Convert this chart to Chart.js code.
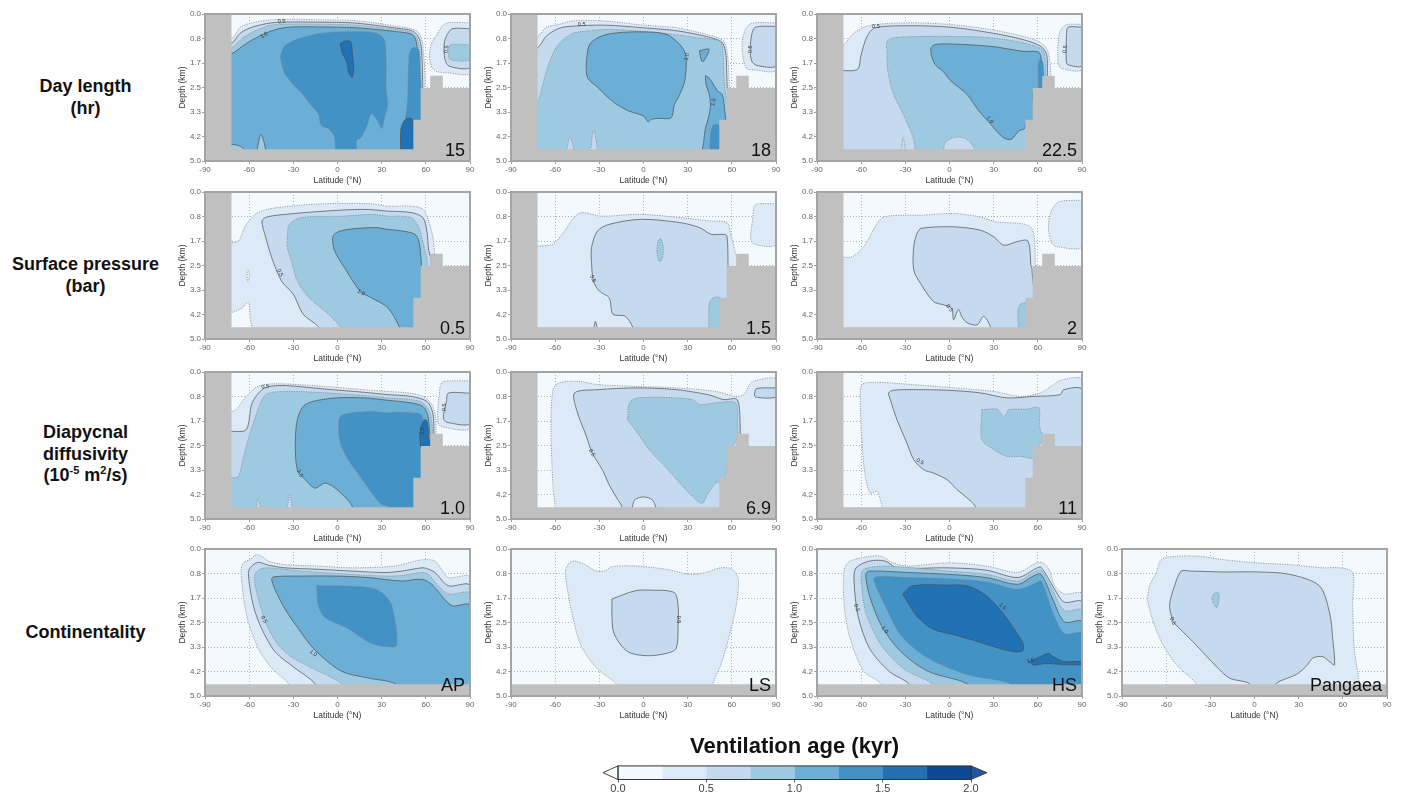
<!DOCTYPE html>
<html>
<head>
<meta charset="utf-8">
<script src="https://cdn.jsdelivr.net/npm/chart.js"></script>
<style>
body { margin: 0; background: #fff; width: 1407px; height: 800px; position: relative; overflow: hidden; font-family: 'Liberation Sans', Arial, sans-serif; }
canvas { position: absolute; }
.rowlab { position: absolute; left: 0; width: 171px; text-align: center; font-weight: bold; font-size: 18px; line-height: 21.5px; color: #111; }
.rowlab sup { font-size: 11px; line-height: 0; vertical-align: 7px; }
</style>
</head>
<body>
<div class="rowlab" style="top:76px">Day length<br>(hr)</div>
<div class="rowlab" style="top:254px">Surface pressure<br>(bar)</div>
<div class="rowlab" style="top:422px">Diapycnal<br>diffusivity<br>(10<sup>-5</sup> m<sup>2</sup>/s)</div>
<div class="rowlab" style="top:622px">Continentality</div>
<script>
const FONT = "'Liberation Sans', Arial, sans-serif";

// axes
const latTicks = [-90, -60, -30, 0, 30, 60, 90];
const depthTicks = ['0.0', '0.8', '1.7', '2.5', '3.3', '4.2', '5.0'];
const ageLevels = [0, 0.25, 0.5, 0.75, 1, 1.25, 1.5, 1.75, 2];
const cbTicks = ['0.0', '0.5', '1.0', '1.5', '2.0'];
const bandColors = ['#f4f9fe', '#dce9f6', '#c5daee', '#9ecae1', '#6baed6', '#4292c6', '#2171b5', '#0b4a97'];

// land masks [lat, depth]
const landShelf = [[-90,0],[-72,0],[-72,4.6],[51.5,4.6],[51.5,3.6],[56.5,3.6],[56.5,2.52],[63,2.52],[63,2.1],[71.5,2.1],[71.5,2.52],[90,2.52],[90,5],[-90,5]];
const landFlat = [[-90,4.6],[90,4.6],[90,5],[-90,5]];

// contour regions: [lower band level, outline [lat, depth], hole?]
const day15 = [
  [0.25, [[-80,0.85],[-72,0.85],[-66,0.45],[-58,0.3],[-45,0.2],[-30,0.18],[-10,0.2],[10,0.22],[25,0.3],[40,0.42],[50,0.5],[55,0.62],[57.5,0.9],[58.5,1.4],[59,1.7],[59.5,2.2],[59.5,2.6],[60,4.9],[-80,4.9]]],
  [0.5, [[-80,1.0],[-72,1.0],[-66,0.65],[-58,0.45],[-45,0.3],[-30,0.27],[-10,0.28],[10,0.3],[25,0.38],[40,0.48],[50,0.56],[54,0.7],[56.5,1.0],[57.5,1.6],[58,2.6],[60,4.9],[-80,4.9]]],
  [0.75, [[-80,1.15],[-72,1.15],[-64,0.8],[-55,0.55],[-45,0.38],[-30,0.34],[-10,0.35],[10,0.37],[25,0.44],[40,0.53],[50,0.62],[53.5,0.78],[55.5,1.1],[56.5,1.7],[57,2.6],[60,4.9],[-80,4.9]]],
  [1.0, [[-80,1.35],[-72,1.35],[-62,1.0],[-50,0.68],[-40,0.5],[-30,0.44],[-10,0.44],[10,0.46],[25,0.52],[40,0.6],[50,0.68],[53,0.85],[54.5,1.3],[55.5,2.0],[56,2.6],[60,4.9],[-80,4.9]]],
  [1.25, [[-39,1.45],[-36,1.1],[-28,0.87],[-12,0.66],[11,0.6],[27,0.66],[32,0.9],[33,1.6],[33,2.5],[34,3.1],[32,3.5],[30,3.9],[27,3.6],[23,3.4],[20,3.8],[16,4.2],[13,4.3],[12,4.9],[0,4.9],[-2,4.2],[-6,3.9],[-11,3.8],[-13,3.4],[-18,3.1],[-24,2.7],[-30,2.4],[-36,2.0]]],
  [1.25, [[48.5,1.4],[51,1.15],[55,1.2],[56,1.6],[57,4.9],[44,4.9],[44.5,4.1],[46,3.6],[47.5,3.0],[48,2.2]]],
  [1.5, [[2,1.0],[5,0.92],[9,0.95],[10,1.3],[11,1.8],[10,2.15],[8,2.05],[6,1.6],[3,1.3]]],
  [1.5, [[43,4.9],[43,3.95],[45,3.65],[48,3.55],[51,3.6],[51.5,4.9]]],
  [0.75, [[-55,4.7],[-52,4.1],[-49,4.7]], 'h'],
  [0.75, [[-80,4.7],[-72,4.45],[-66,4.5],[-62,4.7]], 'h'],
  [0.25, [[90,0.3],[75,0.3],[71,0.42],[67,0.75],[64,1.0],[62.5,1.35],[63.5,1.75],[67,1.95],[75,2.0],[90,2.0]]],
  [0.5, [[90,0.5],[78,0.5],[74.5,0.7],[72.5,1.0],[73,1.55],[76,1.78],[90,1.8]]],
  [0.75, [[90,1.05],[76.5,1.05],[75.5,1.3],[76.5,1.55],[90,1.55]]]
];
const day18 = [
  [0.25, [[-80,0.76],[-72,0.76],[-66,0.45],[-58,0.36],[-47,0.23],[-26,0.24],[0,0.38],[21,0.46],[37,0.62],[50,0.8],[55,0.95],[57,1.38],[58,2.0],[58.5,2.6],[62,4.9],[-80,4.9]]],
  [0.5, [[-80,1.15],[-72,1.15],[-66,0.75],[-58,0.5],[-50,0.42],[-26,0.38],[0,0.47],[21,0.56],[37,0.7],[50,0.87],[54,1.0],[56,1.4],[56.5,2.0],[57,2.6],[62,4.9],[-80,4.9]]],
  [0.75, [[-80,2.96],[-72,2.96],[-70,2.7],[-66,1.95],[-62,1.4],[-58,1.04],[-52,0.78],[-47,0.64],[-26,0.53],[0,0.59],[21,0.7],[37,0.81],[52,0.93],[54,1.3],[54.5,1.95],[55.5,2.6],[62,4.9],[-80,4.9]]],
  [1.0, [[-39,1.72],[-36.7,1.04],[-29,0.76],[-18,0.64],[0,0.61],[16,0.7],[26.5,1.15],[29,1.5],[28,2.28],[24,2.8],[21,3.08],[18.7,3.53],[10,3.55],[5.5,3.58],[3,3.66],[0,3.47],[-10,3.3],[-18,3.08],[-25,2.8],[-31,2.5],[-38,2.17]]],
  [1.0, [[38,1.25],[44.5,1.2],[41,1.6],[39.5,1.6]]],
  [1.0, [[42,2.1],[44,2.15],[47,2.35],[50,2.6],[53.5,2.75],[55,3.2],[57,4.9],[40.5,4.9],[41,4.3],[42,3.9],[44,3.55],[45.5,3.1],[44.5,2.7],[42.5,2.4]]],
  [1.25, [[45,4.9],[45.5,4.1],[47,3.8],[49,3.75],[51.5,3.8],[51.5,4.9]]],
  [0.5, [[-52.5,4.7],[-50,4.2],[-47.5,4.7]], 'h'],
  [0.5, [[-36,4.7],[-34,3.95],[-31.5,4.7]], 'h'],
  [0.25, [[90,0.3],[73,0.32],[69,0.55],[67,1.0],[67.5,1.45],[70,1.85],[75,1.9],[90,1.9]]],
  [0.5, [[90,0.42],[76,0.45],[73.5,0.7],[72.5,1.2],[73.5,1.6],[77,1.75],[90,1.75]]]
];
const day225 = [
  [0.25, [[-80,1.04],[-72,1.04],[-66,0.7],[-59,0.47],[-50.6,0.36],[-26,0.3],[1,0.36],[28,0.53],[50,0.76],[60,0.92],[64,1.05],[67,1.3],[68.5,1.8],[68.5,2.3],[62,4.9],[-80,4.9]]],
  [0.5, [[-80,1.89],[-62.8,1.89],[-60,1.38],[-56,0.76],[-50.6,0.47],[-26,0.4],[1,0.45],[28,0.64],[50,0.87],[62,1.1],[66,1.38],[66.5,2.0],[66.5,2.3],[62,4.9],[-80,4.9]]],
  [0.75, [[-23.4,4.9],[-23.4,4.6],[-24.7,4.2],[-31.5,3.4],[-38.3,2.7],[-42,1.9],[-42.4,1.38],[-42.4,0.93],[-37,0.8],[1,0.76],[28,0.81],[50,0.98],[63,1.21],[65,1.55],[65.5,2.2],[65.5,2.4],[62,4.9]]],
  [0.5, [[-4,4.7],[-3,4.38],[3,4.2],[10,4.22],[15,4.42],[17,4.7]], 'h'],
  [0.5, [[-33,4.7],[-31.5,4.2],[-30,4.7]], 'h'],
  [1.0, [[-12.5,1.38],[-12.5,1.15],[-9.8,1.04],[1,1.02],[28,1.1],[50,1.27],[61,1.32],[62.3,1.95],[61,2.51],[57,2.6],[57,3.6],[52,3.7],[51,3.9],[47,3.98],[42,4.26],[36.4,4.2],[28,3.75],[20,3.3],[12,2.74],[1,2.28],[-4.4,1.95],[-9.8,1.72]]],
  [1.25, [[60.5,2.6],[60.3,1.7],[61.5,1.55],[63.5,1.65],[64,2.6]]],
  [0.25, [[90,0.35],[80,0.36],[76,0.5],[74.2,0.8],[73.5,1.3],[74,1.7],[76,1.85],[90,1.88]]],
  [0.5, [[90,0.45],[80.5,0.45],[79.5,0.7],[79.3,1.6],[80.5,1.73],[90,1.75]]]
];
const press05 = [
  [0.25, [[-80,1.72],[-72,1.72],[-67.3,1.67],[-62,1.1],[-54,0.7],[-40.7,0.53],[-8.7,0.4],[23,0.4],[34,0.48],[50,0.48],[58,0.59],[62,0.99],[65,1.6],[66,2.2],[66,2.4],[62,4.9],[-80,4.9]]],
  [0, [[-80,4.1],[-72,4.1],[-65,3.95],[-60.5,3.75],[-59.5,4.2],[-59,4.9],[-80,4.9]], 'h'],
  [0, [[-61.5,2.75],[-60.5,2.65],[-60,2.9],[-61,3.05]], 'h'],
  [0.5, [[-12.7,4.9],[-12.7,4.6],[-23.3,4.16],[-30,3.48],[-38,3.03],[-44.7,2.23],[-49,1.5],[-51.3,0.99],[-48,0.85],[-35.3,0.76],[-8.7,0.65],[18,0.59],[34,0.65],[50,0.7],[58,0.87],[60.7,1.33],[62,2.0],[63.5,2.3],[62,4.9]]],
  [0.75, [[2,4.9],[2,4.6],[-8.7,4.05],[-19.3,3.6],[-27.3,3.03],[-31,2.4],[-34,1.89],[-34,1.44],[-32.7,1.1],[-24.7,0.87],[4.7,0.82],[23,0.76],[34,0.82],[50,0.87],[55.3,1.21],[58.5,1.8],[60.7,2.23],[61,2.6],[62,4.9]]],
  [1.0, [[42,4.9],[42,4.6],[34,3.93],[23,3.6],[15.3,3.37],[4.7,2.57],[-2,2.0],[-3.3,1.55],[-0.7,1.38],[7.3,1.27],[26,1.21],[34,1.27],[44.7,1.33],[52.7,1.44],[55.3,1.67],[56.7,2.23],[57,2.6],[58,4.9]]]
];
const press15 = [
  [0.25, [[-80,1.84],[-72,1.84],[-62,1.78],[-55.3,1.44],[-47.3,0.87],[-42,0.7],[-28.7,0.82],[-2,0.76],[24.7,0.87],[46,0.99],[56.7,1.04],[59.3,1.44],[62,2.0],[63.5,2.3],[62,4.9],[-80,4.9]]],
  [0.5, [[-7.3,4.9],[-7.3,4.6],[-12.7,4.22],[-20.7,4.16],[-23.3,3.6],[-30,3.37],[-34,3.03],[-35.3,2.4],[-35.3,1.89],[-31.3,1.33],[-23.3,1.1],[-2,0.93],[24.7,1.04],[38,1.21],[46,1.44],[54,1.44],[56.7,1.5],[57.5,2.6],[60,4.9]]],
  [0.5, [[-34,4.7],[-32.7,4.4],[-31.5,4.7]]],
  [0.75, [[9,2.0],[10,1.65],[12,1.6],[13.5,1.95],[12.5,2.3],[10.5,2.35]]],
  [0.75, [[44.5,4.9],[44.5,3.85],[46,3.65],[48.7,3.58],[52,3.6],[52,4.9]]],
  [0.25, [[90,0.4],[78,0.4],[75.3,0.48],[74,0.99],[72.7,1.55],[75.3,1.78],[90,1.78]]]
];
const press2 = [
  [0.25, [[-80,2.22],[-72,2.22],[-66.2,2.2],[-58.3,1.86],[-49.2,1.07],[-44.7,0.85],[-31,0.79],[-19.8,0.79],[2.8,0.73],[21,0.85],[32.3,1.02],[48,1.07],[55,1.19],[57.6,1.52],[58.3,2.43],[58.5,2.6],[60,4.9],[-80,4.9]]],
  [0.5, [[-19.8,1.24],[-10.8,1.19],[5,1.19],[21,1.3],[30,1.52],[36.8,1.81],[45.8,1.69],[52.6,1.64],[54.4,1.86],[55.3,2.5],[56,2.6],[57,4.9],[28,4.9],[27.7,4.57],[23.2,4.23],[18.7,4.52],[12,4.45],[8.5,4.25],[6,4.0],[2.8,4.35],[1.5,3.95],[-4,3.84],[-10.8,3.73],[-19.8,3.1],[-24.3,2.65],[-24.3,1.86],[-22,1.4]]],
  [0.75, [[47,4.9],[46.5,4.0],[48.5,3.8],[51.5,3.8],[51.5,4.9]]],
  [0.25, [[90,0.28],[74,0.34],[68.5,0.73],[67.3,1.3],[69.6,1.75],[73,1.86],[90,1.86]]]
];
const diff10 = [
  [0.25, [[-80,1.34],[-72,1.34],[-68.7,1.28],[-62,0.83],[-54,0.49],[-40.7,0.4],[-8.7,0.49],[18,0.6],[34,0.66],[47.3,0.71],[58,0.83],[64,1.1],[66.5,1.5],[67,2.0],[67,2.3],[62,4.9],[-80,4.9]]],
  [0.5, [[-80,2.02],[-72,2.02],[-62,1.96],[-58,1.05],[-51.3,0.6],[-46,0.49],[-35.3,0.46],[-8.7,0.58],[18,0.69],[34,0.77],[50,0.83],[60.7,1.0],[64.7,1.39],[65.5,2.0],[65.5,2.3],[62,4.9],[-80,4.9]]],
  [0.75, [[-80,3.6],[-72,3.6],[-67.3,3.55],[-64,2.9],[-60.7,2.3],[-54,1.28],[-48.7,0.77],[-35.3,0.66],[-8.7,0.71],[18,0.8],[34,0.88],[50,0.94],[58,1.05],[62.8,1.39],[64.7,2.07],[64.5,2.3],[62,4.9],[-80,4.9]]],
  [0.5, [[-55.5,4.7],[-54,4.3],[-52.5,4.7]], 'h'],
  [0.5, [[-34.5,4.7],[-32.5,4.2],[-31,4.7]], 'h'],
  [1.0, [[10,4.9],[10,4.57],[4.7,4.23],[-3.3,3.89],[-8.7,3.78],[-15.3,3.95],[-22,3.66],[-27.3,3.32],[-28.7,2.42],[-27.3,1.62],[-23.3,1.17],[-16.7,1.0],[-0.7,0.88],[18,0.88],[34,0.96],[50,1.05],[58,1.17],[61.2,1.45],[62.8,2.07],[63.5,2.3],[62,4.9]]],
  [1.25, [[34,4.9],[34,4.57],[30,4.51],[23.3,4.12],[15.3,3.55],[7.3,2.98],[2,2.42],[0.7,1.85],[2,1.51],[10,1.39],[23.3,1.34],[34,1.39],[39.3,1.37],[50,1.39],[56.7,1.45],[59.3,1.85],[60.7,2.3],[60.7,2.6],[58,4.9]]],
  [1.5, [[56.5,2.6],[56,2.1],[57.5,1.75],[59.5,1.62],[61,1.7],[62,2.2],[62.5,2.6]]],
  [0.25, [[90,0.3],[72,0.32],[70,0.45],[69,0.8],[68.2,1.2],[68.2,1.7],[70,1.85],[90,1.9]]],
  [0.5, [[90,0.72],[75.3,0.72],[74,1.0],[72.2,1.4],[72.2,1.62],[75,1.72],[90,1.75]]]
];
const diff69 = [
  [0.25, [[-60,4.9],[-60,4.57],[-61.5,3.89],[-62.8,1.85],[-61.5,0.6],[-57.5,0.37],[-44,0.32],[-30.8,0.43],[-4,0.49],[22.5,0.54],[49,0.66],[62.5,0.83],[68,0.77],[73,0.37],[78.5,0.26],[90,0.26],[90,2.6],[62,4.9]]],
  [0.5, [[-14.8,4.9],[-14.8,4.57],[-17.5,4.34],[-22.8,3.89],[-28,3.32],[-34.8,2.76],[-38.8,2.19],[-45.5,1.28],[-46.8,0.71],[-30.8,0.6],[-4,0.54],[22.5,0.6],[43.9,0.77],[49,0.85],[54.6,0.94],[63.6,0.94],[65.7,1.85],[65.5,2.3],[62,4.9]]],
  [0.25, [[-8,4.7],[-6,4.35],[0,4.25],[6,4.35],[8,4.7]], 'h'],
  [0.5, [[90,0.54],[77,0.56],[75.5,0.7],[76,0.85],[90,0.85]]],
  [0.75, [[-10.8,1.62],[-9.5,1.05],[-4,0.88],[22.5,0.88],[33.2,0.94],[38.5,1.11],[49,1.05],[62.5,1.05],[63.9,1.62],[63.5,2.3],[58,2.7],[55,3.7],[51,3.75],[49,3.78],[43.9,4.12],[39.9,4.46],[33.2,4.23],[22.5,3.66],[14.5,3.21],[3.9,2.64],[-4,2.08]]]
];
const diff11 = [
  [0.25, [[-45.9,4.9],[-45.9,4.6],[-47,4.34],[-49.2,4.06],[-53.8,4.12],[-57.2,3.55],[-59.4,2.42],[-60.6,0.94],[-59.4,0.43],[-51.5,0.35],[-24.3,0.43],[2.8,0.54],[30,0.66],[48.1,0.83],[61.7,0.71],[70.7,0.43],[75.3,0.28],[90,0.26],[90,2.6],[62,4.9]]],
  [0.5, [[17.5,4.9],[17.5,4.57],[10.7,4.23],[5.1,4.0],[-1.7,3.66],[-10.8,3.44],[-17.6,3.32],[-24.3,2.98],[-28.9,2.42],[-35.7,1.62],[-40.2,0.94],[-41.3,0.71],[-37.9,0.62],[-24.3,0.6],[-1.7,0.62],[21,0.71],[39,0.88],[57.2,0.83],[75.3,0.77],[77.5,0.6],[90,0.6],[90,2.6],[62,4.9]]],
  [0.75, [[22,1.28],[32.3,1.26],[34.5,1.39],[36.8,1.51],[39,1.39],[40.2,1.28],[52.6,1.26],[60.6,1.22],[61.2,1.85],[63.5,2.3],[58,2.7],[57.2,2.93],[48.1,2.87],[39,2.87],[30,2.64],[22,2.3]]]
];
const contAP = [
  [0.25, [[-33.4,4.9],[-33.4,4.58],[-44.7,4.05],[-53.8,3.38],[-61.7,2.26],[-65.5,0.8],[-64,0.47],[-59.4,0.36],[-54.9,0.19],[-51.5,0.25],[-47,0.41],[-35.7,0.53],[-13,0.58],[9.6,0.64],[39,0.58],[53,0.41],[59.4,0.36],[66.2,0.41],[70.7,0.69],[75.3,0.97],[90,0.97],[90,4.9]]],
  [0.5, [[-15.3,4.9],[-15.3,4.58],[-28.9,4.05],[-42.5,3.49],[-51.5,2.71],[-57.2,1.92],[-60.6,0.8],[-58.3,0.58],[-53.8,0.45],[-47,0.55],[-35.7,0.64],[-13,0.69],[9.6,0.75],[32.3,0.8],[43.6,0.75],[57.2,0.64],[60.5,0.66],[66.2,0.8],[75.3,1.25],[90,1.25],[90,4.9]]],
  [0.75, [[2.8,4.9],[2.8,4.58],[-15.3,4.1],[-33.4,3.6],[-44.7,2.93],[-52.6,1.92],[-56.5,0.92],[-52.6,0.69],[-47,0.64],[-24.3,0.75],[-1.7,0.83],[32.3,0.92],[43.6,0.9],[57.2,0.8],[61.7,0.86],[68.5,1.25],[75.3,1.53],[90,1.53],[90,4.9]]],
  [1.0, [[39,4.9],[39,4.58],[21,4.39],[2.8,4.16],[-15.3,3.44],[-26.6,2.71],[-35.7,2.04],[-42.5,1.37],[-44.7,1.01],[-42.5,0.94],[-24.3,0.92],[-1.7,0.92],[21,0.97],[43.6,1.09],[57.2,1.03],[64,1.2],[77.5,1.92],[90,1.92],[90,4.9]]],
  [1.25, [[-14.2,1.25],[-1.7,1.25],[21,1.31],[30,1.48],[36.8,1.92],[40.2,3.27],[32.3,3.32],[21,3.16],[7.4,2.71],[-8.5,2.32],[-13,1.92]]]
];
const contLS = [
  [0.25, [[-18.7,4.9],[-18.7,4.58],[-32,4.05],[-42.5,3.27],[-47.8,2.37],[-51.7,1.37],[-53,0.75],[-50.4,0.47],[-46.5,0.41],[-39.9,0.53],[-32,0.75],[-26.7,0.75],[-21.4,0.6],[-5.6,0.58],[15.6,0.69],[31.4,0.86],[42,0.8],[52.5,0.64],[60.4,0.69],[64.4,1.03],[63,1.92],[57.8,3.04],[52.5,3.94],[47.2,4.58],[47.2,4.9]]],
  [0.5, [[-21.4,1.7],[-5.6,1.42],[5,1.4],[20.8,1.48],[23.5,1.92],[23.5,2.6],[22.2,3.38],[15.6,3.55],[2.4,3.63],[-10.8,3.49],[-20,2.88],[-21.4,2.26]]]
];
const contHS = [
  [0.25, [[-46.3,4.9],[-46.3,4.58],[-58.2,4.16],[-67.5,3.04],[-71.5,1.92],[-71.5,0.69],[-67.5,0.41],[-54.3,0.25],[-46.3,0.25],[-38.4,0.47],[-27.8,0.58],[-1.3,0.47],[25.1,0.58],[46.3,0.8],[56.9,0.53],[62.2,0.45],[67.5,0.69],[71.5,1.25],[78.1,1.53],[90,1.53],[90,4.9]]],
  [0.5, [[-27.8,4.9],[-27.8,4.58],[-41,4.16],[-54.3,3.38],[-62.2,2.26],[-64.9,1.03],[-63.5,0.64],[-54.3,0.41],[-43.7,0.41],[-35.7,0.64],[-1.3,0.64],[25.1,0.72],[46.3,0.97],[59.6,0.64],[62,0.62],[64.8,0.8],[72.8,1.48],[78.1,1.81],[90,1.81],[90,4.9]]],
  [0.75, [[-11.9,4.9],[-11.9,4.58],[-30.4,4.1],[-46.3,3.27],[-56.9,2.15],[-60.1,0.92],[-58.2,0.69],[-43.7,0.58],[-1.3,0.75],[25.1,0.86],[46.3,1.09],[56.9,0.8],[62.2,0.72],[67.5,1.14],[78.1,2.09],[90,2.09],[90,4.9]]],
  [1.0, [[11.9,4.9],[11.9,4.58],[-14.6,4.16],[-33.1,3.49],[-46.3,2.6],[-54.3,1.59],[-56.9,0.86],[-54.3,0.75],[-27.8,0.8],[-1.3,0.86],[25.1,0.97],[46.3,1.2],[56.9,0.92],[62.2,0.86],[70.1,1.7],[78.1,2.48],[90,2.48],[90,4.9]]],
  [1.25, [[41,4.9],[41,4.58],[11.9,4.27],[-14.6,3.71],[-33.1,2.93],[-43.7,1.92],[-51.6,1.03],[-49,0.94],[-27.8,0.97],[-1.3,1.01],[25.1,1.12],[46.3,1.37],[56.9,1.2],[62.2,1.09],[70.1,2.15],[78.1,2.88],[90,2.88],[90,4.9]]],
  [1.5, [[-31.8,1.53],[-25.2,1.25],[-1.3,1.23],[11.9,1.25],[25.1,1.59],[35.7,2.15],[43.7,2.71],[50.3,3.27],[49,3.49],[38.4,3.44],[19.9,3.16],[4,2.93],[-11.9,2.71],[-22.5,2.26]]],
  [1.5, [[54.3,3.83],[60,3.7],[67.5,3.55],[70,3.65],[78.1,3.83],[90,3.83],[90,3.94],[64.8,3.9],[57,3.95]]]
];
const contPangaea = [
  [0.25, [[-39.6,4.9],[-39.6,4.58],[-53.1,3.94],[-64.4,3.04],[-72.4,1.81],[-71.2,1.25],[-66.7,0.8],[-63.3,0.36],[-53.1,0.25],[-37.3,0.25],[-21.5,0.36],[1.1,0.47],[23.7,0.53],[46.3,0.64],[57.6,0.64],[66.7,0.8],[66.7,1.92],[67.8,3.38],[71.2,4.58],[71.2,4.9]]],
  [0.5, [[-55.4,2.48],[-57.7,1.92],[-54.3,1.25],[-49.8,0.75],[-44.1,0.75],[-21.5,0.78],[1.1,0.78],[23.7,0.86],[44,1.25],[50.9,2.15],[53.1,3.04],[54.3,3.94],[50.9,3.83],[46.3,3.66],[39.6,3.71],[35.1,3.99],[28.3,4.27],[14.7,4.58],[14.7,4.9],[-3.4,4.9],[-3.4,4.58],[-17,4.39],[-26,3.99],[-39.6,3.27],[-48.6,2.82]]],
  [0.75, [[-29,1.65],[-27,1.5],[-24.5,1.5],[-24,1.7],[-25.5,2.0],[-28,1.85]]]
];

// small contour labels: [text, lat, depth, angle]
const notes = {
  day15: [['0.5',-38,0.26,-3],['1.0',-50,0.72,-35],['0.5',74,1.2,-80]],
  day18: [['0.5',-42,0.37,0],['1.0',29.5,1.45,-80],['1.5',47.5,3.0,-75],['0.5',72.5,1.2,-85]],
  day225: [['0.5',-50,0.44,0],['1.0',27.5,3.6,55],['0.5',78.5,1.2,-80]],
  press05: [['0.5',-39,2.75,65],['1.0',16,3.42,30]],
  press15: [['0.5',-34.5,2.95,65]],
  press2: [['0.5',0,3.95,55]],
  diff10: [['0.5',-49,0.5,-10],['1.0',-25.5,3.45,65],['1.5',57.5,2.0,-85],['0.5',72.5,1.2,-85]],
  diff69: [['0.5',-35,2.75,60]],
  diff11: [['0.5',-20,3.05,30]],
  contAP: [['0.5',-50,2.4,60],['1.0',-16.5,3.55,35]],
  contLS: [['0.5',24,2.4,90]],
  contHS: [['0.5',-63,2.0,70],['1.0',-44,2.75,55],['1.5',36,1.95,45],['1.5',55,3.8,-20]],
  contPangaea: [['0.5',-55.5,2.45,70]]
};

const panels = [
  {col: 0, row: 0, name: '15', regions: day15, land: landShelf, notes: notes.day15},
  {col: 1, row: 0, name: '18', regions: day18, land: landShelf, notes: notes.day18},
  {col: 2, row: 0, name: '22.5', regions: day225, land: landShelf, notes: notes.day225},
  {col: 0, row: 1, name: '0.5', regions: press05, land: landShelf, notes: notes.press05},
  {col: 1, row: 1, name: '1.5', regions: press15, land: landShelf, notes: notes.press15},
  {col: 2, row: 1, name: '2', regions: press2, land: landShelf, notes: notes.press2},
  {col: 0, row: 2, name: '1.0', regions: diff10, land: landShelf, notes: notes.diff10},
  {col: 1, row: 2, name: '6.9', regions: diff69, land: landShelf, notes: notes.diff69},
  {col: 2, row: 2, name: '11', regions: diff11, land: landShelf, notes: notes.diff11},
  {col: 0, row: 3, name: 'AP', regions: contAP, land: landFlat, notes: notes.contAP},
  {col: 1, row: 3, name: 'LS', regions: contLS, land: landFlat, notes: notes.contLS},
  {col: 2, row: 3, name: 'HS', regions: contHS, land: landFlat, notes: notes.contHS},
  {col: 3, row: 3, name: 'Pangaea', regions: contPangaea, land: landFlat, notes: notes.contPangaea}
];

const colLeft = [205, 511, 817, 1122];
const rowTop = [14, 192, 372, 549];

function toXY(pts) {
  return pts.concat([pts[0]]).map(([x, y]) => ({x, y}));
}

function regionSet([lvl, pts, hole]) {
  const edge = hole ? lvl + 0.25 : lvl;
  const major = Math.abs(edge * 2 - Math.round(edge * 2)) < 1e-6;
  return {
    data: toXY(pts), showLine: true, fill: 'shape', tension: 0.3, pointRadius: 0,
    backgroundColor: bandColors[Math.round(lvl * 4)],
    borderColor: major ? '#4d4d4d' : '#7d7d7d',
    borderWidth: 0.7,
    borderDash: major ? [] : [1.2, 1.2]
  };
}

/** Background, frame, contour labels and panel name. */
const panelDeco = {
  id: 'panelDeco',
  beforeDraw(chart) {
    const {ctx, chartArea: a} = chart;
    ctx.save();
    ctx.fillStyle = bandColors[0];
    ctx.fillRect(a.left, a.top, a.width, a.height);
    ctx.restore();
  },
  afterDatasetsDraw(chart) {
    const {ctx, scales} = chart;
    const p = chart.options.plugins.panelDeco;
    ctx.save();
    ctx.font = '5.5px ' + FONT;
    ctx.fillStyle = '#333';
    ctx.textAlign = 'center';
    ctx.textBaseline = 'middle';
    p.notes.forEach(([t, lat, d, ang]) => {
      ctx.save();
      ctx.translate(scales.x.getPixelForValue(lat), scales.y.getPixelForValue(d));
      ctx.rotate(ang * Math.PI / 180);
      ctx.fillText(t, 0, 0);
      ctx.restore();
    });
    ctx.restore();
  },
  afterDraw(chart) {
    const {ctx, chartArea: a} = chart;
    const p = chart.options.plugins.panelDeco;
    ctx.save();
    ctx.strokeStyle = '#a4a4a4';
    ctx.lineWidth = 2;
    ctx.strokeRect(a.left, a.top, a.width, a.height);
    ctx.font = '18px ' + FONT;
    ctx.fillStyle = '#111';
    ctx.textAlign = 'right';
    ctx.textBaseline = 'alphabetic';
    ctx.fillText(p.name, a.right - 5, a.bottom - 5);
    ctx.restore();
  }
};

function makePanel(p) {
  const cv = document.createElement('canvas');
  cv.width = 308;
  cv.height = 184;
  cv.style.left = (colLeft[p.col] - 31) + 'px';
  cv.style.top = (rowTop[p.row] - 8) + 'px';
  document.body.appendChild(cv);

  const sets = p.regions.map(regionSet);
  sets.push({
    data: toXY(p.land), showLine: true, fill: 'shape', tension: 0, pointRadius: 0,
    backgroundColor: '#c0c0c0', borderColor: 'rgba(0,0,0,0)', borderWidth: 0
  });
  sets.forEach((s, i) => { s.order = sets.length - i; });

  const gridOpts = {color: 'rgba(105,105,105,0.6)', lineWidth: 0.8, tickLength: 3, tickColor: '#888'};
  new Chart(cv, {
    type: 'scatter',
    data: {datasets: sets},
    options: {
      responsive: false,
      animation: false,
      events: [],
      devicePixelRatio: 1,
      layout: {padding: {left: 0, top: 8, right: 12, bottom: 0}},
      plugins: {
        legend: {display: false},
        tooltip: {enabled: false},
        panelDeco: {name: p.name, notes: p.notes}
      },
      scales: {
        x: {
          type: 'linear', min: -90, max: 90, z: 1,
          afterBuildTicks: s => { s.ticks = latTicks.map(v => ({value: v})); },
          afterFit: s => { s.height = 29; },
          ticks: {callback: (v, i) => String(latTicks[i]), font: {size: 8, family: FONT}, color: '#666', padding: 1, maxRotation: 0, autoSkip: false},
          grid: gridOpts,
          border: {display: false, dash: [1, 2]},
          title: {display: true, text: 'Latitude (°N)', font: {size: 8.5, family: FONT}, color: '#333', padding: {top: 4, bottom: 4}}
        },
        y: {
          type: 'linear', min: 0, max: 5, reverse: true, z: 1,
          afterBuildTicks: s => { s.ticks = depthTicks.map((t, i) => ({value: i * 5 / 6})); },
          afterFit: s => { s.width = 31; },
          ticks: {callback: (v, i) => depthTicks[i], font: {size: 8, family: FONT}, color: '#666', padding: 1, autoSkip: false},
          grid: gridOpts,
          border: {display: false, dash: [1, 2]},
          title: {display: true, text: 'Depth (km)', font: {size: 8.5, family: FONT}, color: '#333', padding: {top: 4, bottom: 4}}
        }
      }
    },
    plugins: [panelDeco]
  });
}

panels.forEach(makePanel);

/** Colour bar with open low end and filled high end. */
const barEnds = {
  id: 'barEnds',
  afterDraw(chart) {
    const {ctx, chartArea: a, scales} = chart;
    const x0 = scales.x.getPixelForValue(ageLevels[0]);
    const x1 = scales.x.getPixelForValue(ageLevels[ageLevels.length - 1]);
    const m = (a.top + a.bottom) / 2;
    ctx.save();
    ctx.lineWidth = 1;
    ctx.strokeStyle = '#444';
    ctx.beginPath();
    ctx.moveTo(x0, a.top); ctx.lineTo(x0 - 15, m); ctx.lineTo(x0, a.bottom); ctx.closePath();
    ctx.fillStyle = '#fff'; ctx.fill(); ctx.stroke();
    ctx.beginPath();
    ctx.moveTo(x1, a.top); ctx.lineTo(x1 + 16, m); ctx.lineTo(x1, a.bottom); ctx.closePath();
    ctx.fillStyle = '#1f55a3'; ctx.fill(); ctx.stroke();
    ctx.strokeStyle = '#333';
    ctx.strokeRect(a.left, a.top, a.width, a.height);
    ctx.restore();
  }
};

const cb = document.createElement('canvas');
cb.width = 400;
cb.height = 67;
cb.style.left = '595px';
cb.style.top = '733px';
document.body.appendChild(cb);

new Chart(cb, {
  type: 'bar',
  data: {
    labels: ['age'],
    datasets: bandColors.map((c, i) => ({
      data: [[ageLevels[i], ageLevels[i + 1]]],
      backgroundColor: c, borderWidth: 0, barPercentage: 1, categoryPercentage: 1, grouped: false
    }))
  },
  options: {
    indexAxis: 'y',
    responsive: false,
    animation: false,
    events: [],
    devicePixelRatio: 1,
    layout: {padding: {left: 23, right: 24, top: 0, bottom: 0}},
    plugins: {
      legend: {display: false},
      tooltip: {enabled: false},
      title: {display: true, text: 'Ventilation age (kyr)', color: '#111', font: {size: 22, weight: 'bold', family: FONT}, padding: {top: 1, bottom: 5.5}}
    },
    scales: {
      x: {
        type: 'linear', min: 0, max: 2,
        afterBuildTicks: s => { s.ticks = cbTicks.map(t => ({value: parseFloat(t)})); },
        afterFit: s => { s.height = 20.5; },
        ticks: {callback: (v, i) => cbTicks[i], font: {size: 11, family: FONT}, color: '#444', padding: 0, maxRotation: 0},
        grid: {drawOnChartArea: false, tickLength: 3, color: '#555'},
        border: {display: false}
      },
      y: {display: false}
    }
  },
  plugins: [barEnds]
});
</script>
</body>
</html>
